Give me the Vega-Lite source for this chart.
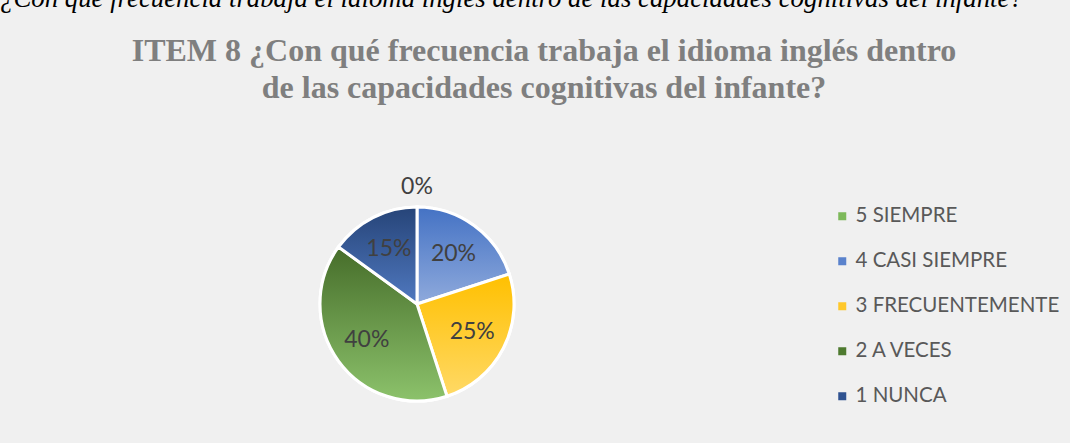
{
  "$schema": "https://vega.github.io/schema/vega-lite/v6.json",
  "background": "#F0F0F0",
  "padding": {"left": 0, "top": -14, "right": 20, "bottom": 60},
  "title": {
    "text": "¿Con qué frecuencia trabaja el idioma inglés dentro de las capacidades cognitivas del infante?",
    "font": "Liberation Serif",
    "fontStyle": "italic",
    "fontWeight": "normal",
    "fontSize": 26.8,
    "color": "#000000",
    "anchor": "start",
    "frame": "bounds",
    "dx": -7,
    "offset": 22
  },
  "vconcat": [
    {
      "width": 820,
      "height": 194,
      "title": {
        "text": ["ITEM 8 ¿Con qué frecuencia trabaja el idioma inglés dentro", "de las capacidades cognitivas del infante?"],
        "font": "Liberation Serif",
        "fontWeight": "bold",
        "fontSize": 32,
        "lineHeight": 37,
        "color": "#7F7F7F",
        "anchor": "middle",
        "frame": "group",
        "dx": 127,
        "offset": 71
      },
      "data": {
        "values": [
          {"categoria": "5 SIEMPRE", "orden": 1, "porcentaje": 0},
          {"categoria": "4 CASI SIEMPRE", "orden": 2, "porcentaje": 0.20},
          {"categoria": "3 FRECUENTEMENTE", "orden": 3, "porcentaje": 0.25},
          {"categoria": "2 A VECES", "orden": 4, "porcentaje": 0.40},
          {"categoria": "1 NUNCA", "orden": 5, "porcentaje": 0.15}
        ]
      },
      "transform": [
        {"stack": "porcentaje", "groupby": [], "sort": [{"field": "orden", "order": "ascending"}], "as": ["inicio", "fin"]}
      ],
      "layer": [
        {
          "mark": {"type": "arc", "stroke": "#FFFFFF", "strokeWidth": 3},
          "encoding": {
            "theta": {"field": "inicio", "type": "quantitative", "scale": {"domain": [0, 1]}},
            "theta2": {"field": "fin"},
            "color": {
              "field": "categoria",
              "type": "nominal",
              "sort": ["5 SIEMPRE", "4 CASI SIEMPRE", "3 FRECUENTEMENTE", "2 A VECES", "1 NUNCA"],
              "scale": {
                "domain": ["5 SIEMPRE", "4 CASI SIEMPRE", "3 FRECUENTEMENTE", "2 A VECES", "1 NUNCA"],
                "range": ["#7DB95A", "#5A82CC", "#FFC82B", "#4E7A2F", "#2F5290"]
              },
              "legend": {
                "title": null,
                "orient": "none",
                "legendX": 825,
                "legendY": -1,
                "padding": 0,
                "symbolType": "square",
                "symbolSize": 64,
                "symbolStrokeWidth": 0,
                "labelFont": "Lato",
                "labelFontSize": 20.5,
                "labelColor": "#595959",
                "labelOffset": 3,
                "rowPadding": 24,
                "labelLimit": 400
              }
            }
          }
        },
        {
          "transform": [{"filter": "datum.categoria == '4 CASI SIEMPRE'"}],
          "mark": {"type": "arc", "stroke": "#FFFFFF", "strokeWidth": 3,
            "color": {"gradient": "linear", "x1": 0, "y1": 0, "x2": 0, "y2": 1, "stops": [{"offset": 0, "color": "#4472C4"}, {"offset": 1, "color": "#8FAADC"}]}},
          "encoding": {
            "theta": {"field": "inicio", "type": "quantitative"},
            "theta2": {"field": "fin"}
          }
        },
        {
          "transform": [{"filter": "datum.categoria == '3 FRECUENTEMENTE'"}],
          "mark": {"type": "arc", "stroke": "#FFFFFF", "strokeWidth": 3,
            "color": {"gradient": "linear", "x1": 0, "y1": 0, "x2": 0, "y2": 1, "stops": [{"offset": 0, "color": "#FFC000"}, {"offset": 1, "color": "#FFD966"}]}},
          "encoding": {
            "theta": {"field": "inicio", "type": "quantitative"},
            "theta2": {"field": "fin"}
          }
        },
        {
          "transform": [{"filter": "datum.categoria == '2 A VECES'"}],
          "mark": {"type": "arc", "stroke": "#FFFFFF", "strokeWidth": 3,
            "color": {"gradient": "linear", "x1": 0, "y1": 0, "x2": 0, "y2": 1, "stops": [{"offset": 0, "color": "#466D2A"}, {"offset": 1, "color": "#8CC26B"}]}},
          "encoding": {
            "theta": {"field": "inicio", "type": "quantitative"},
            "theta2": {"field": "fin"}
          }
        },
        {
          "transform": [{"filter": "datum.categoria == '1 NUNCA'"}],
          "mark": {"type": "arc", "stroke": "#FFFFFF", "strokeWidth": 3,
            "color": {"gradient": "linear", "x1": 0, "y1": 0, "x2": 0, "y2": 1, "stops": [{"offset": 0, "color": "#264478"}, {"offset": 1, "color": "#5079C0"}]}},
          "encoding": {
            "theta": {"field": "inicio", "type": "quantitative"},
            "theta2": {"field": "fin"}
          }
        },
        {
          "transform": [{"filter": "datum.porcentaje > 0"}],
          "mark": {"type": "text", "radius": 62, "font": "Lato", "fontSize": 23, "color": "#404040"},
          "encoding": {
            "theta": {"field": "porcentaje", "type": "quantitative", "stack": true},
            "order": {"field": "orden", "type": "quantitative"},
            "detail": {"field": "categoria"},
            "text": {"field": "porcentaje", "type": "quantitative", "format": ".0%"}
          }
        },
        {
          "transform": [{"filter": "datum.porcentaje == 0"}],
          "mark": {"type": "text", "radius": 117, "font": "Lato", "fontSize": 23, "color": "#404040"},
          "encoding": {
            "theta": {"field": "porcentaje", "type": "quantitative", "stack": true},
            "order": {"field": "orden", "type": "quantitative"},
            "detail": {"field": "categoria"},
            "text": {"field": "porcentaje", "type": "quantitative", "format": ".0%"}
          }
        }
      ]
    }
  ],
  "config": {"view": {"stroke": null}}
}
